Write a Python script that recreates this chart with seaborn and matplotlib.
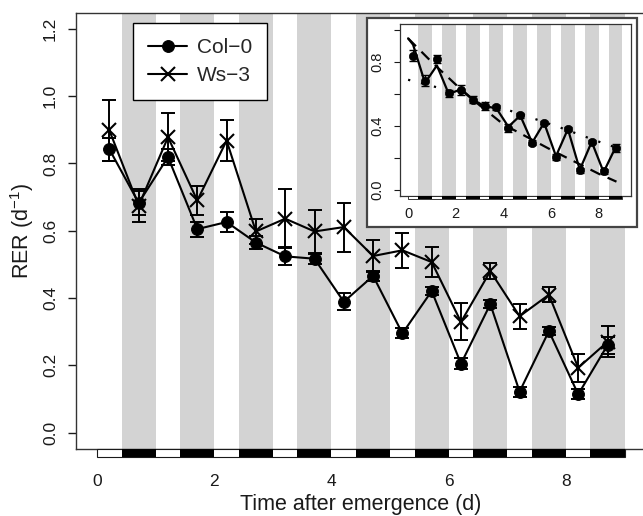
import numpy as np
import matplotlib
matplotlib.use("Agg")
import matplotlib.pyplot as plt
from matplotlib.patches import Rectangle
import seaborn as sns

# sampling times (d after emergence): middle of each light and dark period
times = [0.21, 0.71, 1.21, 1.71, 2.21, 2.71, 3.21, 3.71, 4.21,
         4.71, 5.21, 5.71, 6.21, 6.71, 7.21, 7.71, 8.21, 8.71]

col0_rer = [0.842, 0.683, 0.819, 0.605, 0.626, 0.565, 0.524, 0.517, 0.389,
            0.466, 0.295, 0.421, 0.205, 0.382, 0.122, 0.302, 0.114, 0.260]
col0_se = [0.035, 0.035, 0.025, 0.022, 0.030, 0.020, 0.027, 0.015, 0.025,
           0.015, 0.015, 0.012, 0.017, 0.012, 0.015, 0.012, 0.015, 0.025]

ws3_rer = [0.898, 0.675, 0.878, 0.690, 0.868, 0.598, 0.636, 0.598, 0.611,
           0.525, 0.542, 0.507, 0.329, 0.480, 0.346, 0.410, 0.193, 0.270]
ws3_se = [0.090, 0.050, 0.072, 0.042, 0.060, 0.037, 0.087, 0.063, 0.073,
          0.047, 0.052, 0.045, 0.055, 0.023, 0.037, 0.022, 0.042, 0.046]

# inset: model fit for Col-0 and the day / night trends
model_t = [0.0, 0.21, 0.71, 1.21, 1.71, 2.21, 2.71, 3.21, 3.71, 4.21,
           4.71, 5.21, 5.71, 6.21, 6.71, 7.21, 7.71, 8.21, 8.71]
model_rer = [0.95, 0.91, 0.67, 0.78, 0.60, 0.63, 0.565, 0.525, 0.51, 0.395,
             0.465, 0.295, 0.42, 0.21, 0.38, 0.125, 0.30, 0.11, 0.265]
day_trend_t = [0, 1, 2, 3, 4, 5, 6, 7, 8, 8.75]
day_trend_rer = [0.95, 0.80, 0.66, 0.53, 0.41, 0.33, 0.25, 0.175, 0.10, 0.05]
night_trend_t = [0, 1.4, 4.4, 6.2, 8.4, 8.75]
night_trend_rer = [0.69, 0.635, 0.49, 0.40, 0.28, 0.265]

n_days = 9
photoperiod = 10 / 24
night_grey = "#d3d3d3"
ink = "#1a1a1a"

sns.set_style("ticks")
plt.rcParams["font.family"] = ["Liberation Sans", "DejaVu Sans"]
plt.rcParams["mathtext.default"] = "regular"


def shade_nights(ax, bar_h, lw):
    """grey bands for dark periods + light/dark bar under the x axis"""
    for d in range(n_days):
        ax.axvspan(d + photoperiod, d + 1, color=night_grey, lw=0, zorder=0)
    tr = ax.get_xaxis_transform()
    ax.add_patch(Rectangle((0, -bar_h), n_days, bar_h, transform=tr,
                           facecolor="white", edgecolor=ink, lw=lw,
                           clip_on=False, zorder=5))
    for d in range(n_days):
        ax.add_patch(Rectangle((d + photoperiod, -bar_h), 1 - photoperiod, bar_h,
                               transform=tr, facecolor="black", lw=0,
                               clip_on=False, zorder=6))


def style_frame(ax, lw):
    for sp in ax.spines.values():
        sp.set_visible(True)
        sp.set_color("#333333")
        sp.set_linewidth(lw)


fig = plt.figure(figsize=(6.43, 5.16), dpi=100)

# ---- main panel
ax = fig.add_axes([76 / 643, 67 / 516, 569.6 / 643, 436.3 / 516])
shade_nights(ax, 0.019, 0.8)

ax.errorbar(times, col0_rer, yerr=col0_se, fmt="none", ecolor="black",
            elinewidth=1.4, capsize=5, capthick=1.4, zorder=3)
ax.errorbar(times, ws3_rer, yerr=ws3_se, fmt="none", ecolor="black",
            elinewidth=1.4, capsize=5, capthick=1.4, zorder=3)
sns.lineplot(x=times, y=col0_rer, ax=ax, color="black", lw=1.5,
             marker="o", markersize=8.5, markeredgecolor="black",
             markerfacecolor="black", label="Col\u22120", zorder=4)
sns.lineplot(x=times, y=ws3_rer, ax=ax, color="black", lw=1.5,
             marker="x", markersize=10.5, markeredgecolor="black",
             markeredgewidth=1.5, label="Ws\u22123", zorder=4)

ax.set_xlim(-0.36, 9.36)
ax.set_ylim(-0.0484, 1.248)
ax.set_xticks([0, 2, 4, 6, 8])
ax.set_yticks(np.arange(0, 1.21, 0.2))
ax.set_yticklabels([f"{v:.1f}" for v in np.arange(0, 1.21, 0.2)])
ax.tick_params(axis="x", length=0, pad=18, labelsize=12.5, colors=ink)
ax.tick_params(axis="y", length=6, width=1, pad=7, labelsize=12.5,
               labelrotation=90, colors=ink)
for lbl in ax.get_yticklabels():
    lbl.set_va("center")
ax.set_xlabel("Time after emergence (d)", fontsize=15.5, color=ink, labelpad=3.5)
ax.set_ylabel("RER (d$^{-1}$)", fontsize=15.5, color=ink, labelpad=5)
style_frame(ax, 1.0)

leg = ax.legend(loc="upper left", bbox_to_anchor=(0.1006, 0.9757),
                borderaxespad=0, fontsize=15, frameon=True, fancybox=False,
                framealpha=1, edgecolor="black", handlelength=1.9,
                handletextpad=0.45, labelspacing=0.45, borderpad=0.7)
leg.get_frame().set_linewidth(1.0)
leg.set_zorder(10)

# ---- inset
box = Rectangle((366.7 / 643, (516 - 226.7) / 516), 270 / 643, 208.4 / 516,
                transform=fig.transFigure, facecolor="white",
                edgecolor="#444444", lw=1.6, zorder=4)
fig.add_artist(box)

axin = fig.add_axes([400 / 643, (516 - 196) / 516, 231 / 643, 172 / 516])
axin.set_zorder(5)
shade_nights(axin, 0.0175, 0.6)

sns.lineplot(x=night_trend_t, y=night_trend_rer, ax=axin, color="black",
             lw=1.6, zorder=2).lines[-1].set_dashes((1, 5))
sns.lineplot(x=day_trend_t, y=day_trend_rer, ax=axin, color="black",
             lw=1.6, zorder=2).lines[-1].set_dashes((5, 3.5))
sns.lineplot(x=model_t, y=model_rer, ax=axin, color="black", lw=1.6, zorder=3)
axin.errorbar(times, col0_rer, yerr=col0_se, fmt="none", ecolor="black",
              elinewidth=1.0, capsize=3, capthick=1.0, zorder=4)
sns.scatterplot(x=times, y=col0_rer, ax=axin, color="black", s=36,
                edgecolor="black", zorder=5)

axin.set_xlim(-0.34, 9.36)
axin.set_ylim(-0.04, 1.04)
axin.set_xticks([0, 2, 4, 6, 8])
inset_yt = np.arange(0, 1.01, 0.2)
axin.set_yticks(inset_yt)
axin.set_yticklabels([f"{v:.1f}" if i % 2 == 0 else "" for i, v in enumerate(inset_yt)])
axin.tick_params(axis="x", length=0, pad=8, labelsize=10.5, colors=ink)
axin.tick_params(axis="y", length=4.5, width=0.8, pad=7, labelsize=10.5,
                 labelrotation=90, colors=ink)
for lbl in axin.get_yticklabels():
    lbl.set_va("center")
style_frame(axin, 0.9)

fig.savefig("out.png", dpi=100)
